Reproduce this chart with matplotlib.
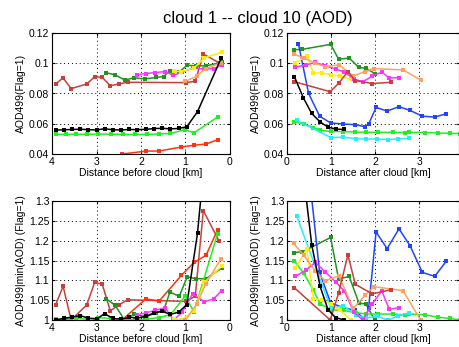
import matplotlib
matplotlib.use('Agg')
import matplotlib.pyplot as plt
from matplotlib.ticker import FormatStrFormatter

matplotlib.rcParams.update({
    'font.family': ['Liberation Sans', 'DejaVu Sans'],
    'font.size': 7.5,
    'xtick.direction': 'in',
    'ytick.direction': 'in',
    'xtick.top': True,
    'ytick.right': True,
    'xtick.major.size': 2.5,
    'ytick.major.size': 2.5,
    'axes.linewidth': 0.8,
})

BRICK  = '#c8403c'
RED    = '#ff3311'
DGREEN = '#1f941f'
LIME   = '#22ee22'
YELLOW = '#ffee00'
MAGENTA = '#ff33ff'
ORANGE = '#ffa060'
BLUE   = '#2244ff'
CYAN   = '#22eeff'
BLACK  = '#000000'

# ---- before cloud (left column) ----
brick_l_x   = [3.92, 3.75, 3.57, 3.22, 3.04, 2.87, 2.69, 2.50, 2.30, 0.99, 0.78, 0.60, 0.25]
brick_l_top = [0.0863, 0.0903, 0.0832, 0.0863, 0.0911, 0.0907, 0.0851, 0.0863, 0.0874, 0.0872, 0.0881, 0.1062, 0.1003]
brick_l_bot = [1.038, 1.085, 1.0, 1.038, 1.095, 1.09, 1.023, 1.038, 1.051, 1.047, 1.06, 1.276, 1.2]

red_l_x   = [2.43, 1.89, 1.59, 1.09, 0.81, 0.54, 0.28]
red_l_top = [0.0400, 0.0419, 0.0420, 0.0446, 0.0458, 0.0466, 0.0494]
red_l_bot = [1.0, 1.053, 1.048, 1.113, 1.145, 1.163, 1.227]

dgreen_l_x   = [2.79, 2.58, 2.37, 2.15, 1.90, 1.66, 1.49, 1.35, 1.14, 0.96, 0.77, 0.54, 0.17]
dgreen_l_top = [0.0938, 0.0923, 0.0890, 0.0903, 0.0897, 0.0906, 0.0912, 0.0952, 0.0943, 0.0987, 0.0983, 0.0983, 0.1007]
dgreen_l_bot = [1.054, 1.037, 1.0, 1.015, 1.008, 1.018, 1.025, 1.07, 1.06, 1.109, 1.104, 1.104, 1.132]

lime_l_x   = [3.92, 3.68, 3.46, 3.22, 2.97, 2.68, 2.41, 2.13, 1.87, 1.60, 1.34, 1.01, 0.81, 0.28]
lime_l_top = [0.0530, 0.0530, 0.0531, 0.0530, 0.0532, 0.0531, 0.0530, 0.0529, 0.0530, 0.0532, 0.0536, 0.0561, 0.0540, 0.0644]
lime_l_bot = [1.002, 1.002, 1.004, 1.002, 1.006, 1.004, 1.002, 1.0, 1.002, 1.006, 1.013, 1.06, 1.021, 1.217]

magenta_l_x   = [2.08, 1.89, 1.69, 1.46, 1.27, 1.07, 0.84, 0.58, 0.37, 0.19]
magenta_l_top = [0.0925, 0.0932, 0.0938, 0.0945, 0.0920, 0.0943, 0.0967, 0.0963, 0.0963, 0.0988]
magenta_l_bot = [1.013, 1.018, 1.024, 1.031, 1.0, 1.02, 1.066, 1.046, 1.053, 1.074]

yellow_l_x   = [1.25, 1.10, 0.81, 0.58, 0.19]
yellow_l_top = [0.0948, 0.0945, 0.0967, 0.1035, 0.1073]
yellow_l_bot = [1.003, 1.0, 1.023, 1.095, 1.135]

orange_l_x   = [1.0, 0.75, 0.55, 0.2]
orange_l_top = [0.0880, 0.0915, 0.0965, 0.1002]
orange_l_bot = [1.0, 1.04, 1.09, 1.155]

black_l_x   = [3.92, 3.74, 3.56, 3.37, 3.19, 3.00, 2.82, 2.63, 2.45, 2.26, 2.08, 1.89, 1.71, 1.52, 1.34, 1.15, 0.97, 0.73, 0.20]
black_l_top = [0.0558, 0.0560, 0.0562, 0.0564, 0.0561, 0.0559, 0.0567, 0.0560, 0.0559, 0.0562, 0.0561, 0.0563, 0.0568, 0.0570, 0.0566, 0.0569, 0.0580, 0.0680, 0.1032]
black_l_bot = [1.0, 1.004, 1.007, 1.011, 1.005, 1.002, 1.016, 1.004, 1.002, 1.007, 1.005, 1.009, 1.018, 1.022, 1.014, 1.02, 1.039, 1.219, 1.849]

# ---- after cloud (right column) ----
dgreen_r_x   = [0.15, 0.35, 0.99, 1.17, 1.41, 1.63, 1.79, 1.99]
dgreen_r_top = [0.1089, 0.1092, 0.1125, 0.1027, 0.1034, 0.0972, 0.0967, 0.0932]
dgreen_r_bot = [1.17, 1.172, 1.208, 1.103, 1.11, 1.043, 1.04, 1.0]

blue_r_x   = [0.26, 0.49, 0.74, 0.99, 1.28, 1.55, 1.77, 1.85, 2.02, 2.27, 2.54, 2.79, 3.07, 3.35, 3.61]
blue_r_top = [0.1127, 0.0800, 0.0650, 0.0605, 0.0598, 0.0594, 0.0580, 0.0597, 0.0708, 0.0684, 0.0713, 0.0688, 0.0650, 0.0644, 0.0666]
blue_r_bot = [1.94, 1.38, 1.12, 1.043, 1.031, 1.024, 1.0, 1.03, 1.222, 1.18, 1.23, 1.187, 1.12, 1.11, 1.148]

black_r_x   = [0.17, 0.37, 0.56, 0.75, 0.93, 1.10, 1.30]
black_r_top = [0.0910, 0.0772, 0.0668, 0.0612, 0.0578, 0.0565, 0.0562]
black_r_bot = [1.62, 1.37, 1.19, 1.085, 1.026, 1.006, 1.0]

lime_r_x   = [0.17, 0.38, 0.60, 0.75, 0.99, 1.28, 1.54, 1.80, 2.07, 2.41, 2.67, 2.77, 3.14, 3.42, 3.69, 3.92]
lime_r_top = [0.0614, 0.0598, 0.0575, 0.0557, 0.0549, 0.0548, 0.0545, 0.0543, 0.0543, 0.0543, 0.0542, 0.0543, 0.0542, 0.0539, 0.0537, 0.0535]
lime_r_bot = [1.148, 1.118, 1.075, 1.041, 1.026, 1.024, 1.019, 1.015, 1.015, 1.015, 1.013, 1.015, 1.013, 1.007, 1.004, 1.0]

cyan_r_x   = [0.22, 0.99, 1.28, 1.56, 1.80, 2.04, 2.29, 2.52, 2.76]
cyan_r_top = [0.0622, 0.0509, 0.0511, 0.0502, 0.0498, 0.0500, 0.0495, 0.0500, 0.0504]
cyan_r_bot = [1.262, 1.03, 1.035, 1.013, 1.005, 1.01, 1.0, 1.01, 1.018]

yellow_r_x   = [0.19, 0.45, 0.60, 0.80, 0.99, 1.20, 1.45]
yellow_r_top = [0.1003, 0.1049, 0.0935, 0.0935, 0.0925, 0.0915, 0.0894]
yellow_r_bot = [1.13, 1.18, 1.053, 1.05, 1.04, 1.025, 1.0]

magenta_r_x   = [0.19, 0.42, 0.64, 0.86, 1.10, 1.30, 1.52, 1.72, 1.93, 2.15, 2.32, 2.53]
magenta_r_top = [0.0974, 0.0988, 0.1005, 0.0985, 0.0962, 0.0942, 0.0895, 0.0878, 0.0914, 0.0942, 0.0902, 0.0905]
magenta_r_bot = [1.11, 1.125, 1.145, 1.122, 1.096, 1.073, 1.019, 1.0, 1.041, 1.073, 1.027, 1.031]

orange_r_x   = [0.15, 0.38, 0.64, 0.86, 1.18, 1.50, 1.77, 1.97, 2.63, 3.03]
orange_r_top = [0.1062, 0.1035, 0.1000, 0.0978, 0.0989, 0.0916, 0.0945, 0.0965, 0.0956, 0.0890]
orange_r_bot = [1.193, 1.163, 1.124, 1.099, 1.111, 1.029, 1.062, 1.084, 1.074, 1.0]

brick_r_x   = [0.17, 0.98, 1.17, 1.38, 1.55, 1.93, 2.35]
brick_r_top = [0.0878, 0.0812, 0.0867, 0.0945, 0.0885, 0.0866, 0.0874]
brick_r_bot = [1.081, 1.0, 1.068, 1.164, 1.09, 1.066, 1.076]

left_series = [
    (brick_l_x, brick_l_top, brick_l_bot, BRICK),
    (red_l_x, red_l_top, red_l_bot, RED),
    (dgreen_l_x, dgreen_l_top, dgreen_l_bot, DGREEN),
    (lime_l_x, lime_l_top, lime_l_bot, LIME),
    (magenta_l_x, magenta_l_top, magenta_l_bot, MAGENTA),
    (yellow_l_x, yellow_l_top, yellow_l_bot, YELLOW),
    (orange_l_x, orange_l_top, orange_l_bot, ORANGE),
    (black_l_x, black_l_top, black_l_bot, BLACK),
]
right_series = [
    (dgreen_r_x, dgreen_r_top, dgreen_r_bot, DGREEN),
    (blue_r_x, blue_r_top, blue_r_bot, BLUE),
    (lime_r_x, lime_r_top, lime_r_bot, LIME),
    (cyan_r_x, cyan_r_top, cyan_r_bot, CYAN),
    (yellow_r_x, yellow_r_top, yellow_r_bot, YELLOW),
    (magenta_r_x, magenta_r_top, magenta_r_bot, MAGENTA),
    (orange_r_x, orange_r_top, orange_r_bot, ORANGE),
    (brick_r_x, brick_r_top, brick_r_bot, BRICK),
    (black_r_x, black_r_top, black_r_bot, BLACK),
]

W, H = 460, 347
fig = plt.figure(figsize=(W / 100, H / 100), dpi=100)

def box(x0, y0, x1, y1):
    return [x0 / W, 1 - y1 / H, (x1 - x0) / W, (y1 - y0) / H]

ax_tl = fig.add_axes(box(52, 33, 230, 154))
ax_tr = fig.add_axes(box(287, 33, 459, 154))
ax_bl = fig.add_axes(box(52, 201, 230, 320))
ax_br = fig.add_axes(box(287, 201, 459, 320))

def draw(ax, series, idx):
    for s in series:
        ax.plot(s[0], s[idx], '-s', color=s[3], lw=1.1, ms=2.8, mew=0)

draw(ax_tl, left_series, 1)
draw(ax_bl, left_series, 2)
draw(ax_tr, right_series, 1)
draw(ax_br, right_series, 2)

for ax in (ax_tl, ax_bl):
    ax.set_xlim(4, 0)
    ax.set_xticks([4, 3, 2, 1, 0])
    ax.set_xlabel('Distance before cloud [km]', labelpad=1)
for ax in (ax_tr, ax_br):
    ax.set_xlim(0, 3.9)
    ax.set_xticks([0, 1, 2, 3])
    ax.set_xlabel('Distance after cloud [km]', labelpad=1)
for ax in (ax_tl, ax_tr):
    ax.set_ylim(0.04, 0.12)
    ax.set_yticks([0.04, 0.06, 0.08, 0.10, 0.12])
    ax.set_ylabel('AOD499(Flag=1)', labelpad=2)
for ax in (ax_bl, ax_br):
    ax.set_ylim(1, 1.3)
    ax.set_yticks([1, 1.05, 1.1, 1.15, 1.2, 1.25, 1.3])
    ax.set_ylabel('AOD499|min(AOD) (Flag=1)', labelpad=2)
for ax in (ax_tl, ax_tr, ax_bl, ax_br):
    ax.yaxis.set_major_formatter(FormatStrFormatter('%g'))
    ax.grid(True, color='k', linestyle=(0, (1, 3)), linewidth=0.7)
    ax.tick_params(labelsize=7.5, pad=2)

fig.text(0.56, 0.948, 'cloud 1 -- cloud 10 (AOD)', ha='center', va='center', fontsize=12)

plt.savefig('out.png', dpi=100)
